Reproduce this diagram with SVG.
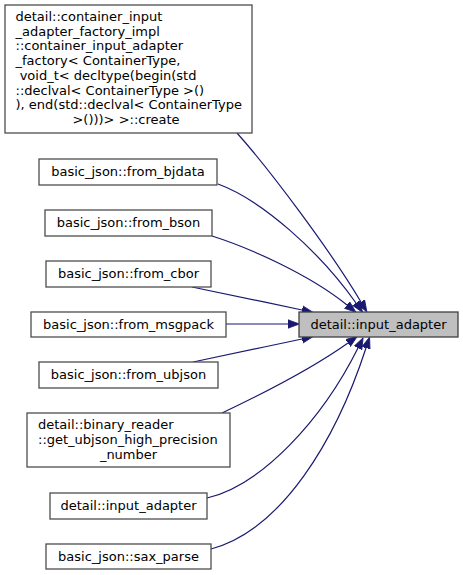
<svg xmlns="http://www.w3.org/2000/svg" width="463" height="575" viewBox="0 0 463 575">
<style>
.n rect{fill:#ffffff;stroke:#4d4d4d;stroke-width:1.3}
.t rect{fill:#bfbfbf;stroke:#404040;stroke-width:1.3}
text{font-family:"DejaVu Sans",sans-serif;font-size:13px;fill:#000000;white-space:pre}
.c{text-anchor:middle}
.e path{fill:none;stroke:#191970;stroke-width:1.2;marker-end:url(#ah)}
</style>
<defs>
<marker id="ah" markerUnits="userSpaceOnUse" markerWidth="12" markerHeight="10" viewBox="0 -5 12 10" refX="0" refY="0" orient="auto">
<path d="M0,-4.2 L11.5,0 L0,4.2 Z" fill="#191970" stroke="#191970" stroke-width="0.8"/>
</marker>
</defs>
<g id="edges" class="e">
<path d="M237,133 C270,170 330,250 361,302"/>
<path d="M218,184 C262,200 320,252 356,303"/>
<path d="M212,236 C250,248 310,275 347,305"/>
<path d="M192,287 C220,293 265,302 302,310"/>
<path d="M226,324 L288,324"/>
<path d="M193,362 C220,356 265,347 302,339"/>
<path d="M222,413 C260,395 310,370 348,343"/>
<path d="M207,498 C262,485 322,420 358,348"/>
<path d="M211,549 C282,530 336,440 366,348"/>
</g>
<g id="node1" class="n">
<rect x="5" y="5" width="247" height="128"/>
<text x="15.5" y="21">detail::container_input</text>
<text x="15.5" y="35.7">_adapter_factory_impl</text>
<text x="15.5" y="50.4">::container_input_adapter</text>
<text x="15.5" y="65.1">_factory&lt; ContainerType,</text>
<text x="15.5" y="79.8"> void_t&lt; decltype(begin(std</text>
<text x="15.5" y="94.5">::declval&lt; ContainerType &gt;()</text>
<text x="15.5" y="109.2">), end(std::declval&lt; ContainerType</text>
<text class="c" x="126" y="124">&gt;()))&gt; &gt;::create</text>
</g>
<g id="node2" class="n">
<rect x="39" y="159" width="178" height="26"/>
<text class="c" x="128" y="176">basic_json::from_bjdata</text>
</g>
<g id="node3" class="n">
<rect x="45" y="210" width="167" height="26"/>
<text class="c" x="128.5" y="227">basic_json::from_bson</text>
</g>
<g id="node4" class="n">
<rect x="46" y="261" width="165" height="26"/>
<text class="c" x="128.5" y="278">basic_json::from_cbor</text>
</g>
<g id="node5" class="n">
<rect x="31" y="312" width="195" height="25"/>
<text class="c" x="128.5" y="328.5">basic_json::from_msgpack</text>
</g>
<g id="node6" class="n">
<rect x="39" y="362" width="179" height="26"/>
<text class="c" x="128.5" y="379">basic_json::from_ubjson</text>
</g>
<g id="node7" class="n">
<rect x="27" y="413" width="203" height="54"/>
<text x="38" y="428.5">detail::binary_reader</text>
<text x="38" y="443.5">::get_ubjson_high_precision</text>
<text class="c" x="128.5" y="458.5">_number</text>
</g>
<g id="node8" class="n">
<rect x="50" y="493" width="157" height="26"/>
<text class="c" x="128.5" y="510">detail::input_adapter</text>
</g>
<g id="node9" class="n">
<rect x="46" y="544" width="165" height="25"/>
<text class="c" x="128.5" y="561">basic_json::sax_parse</text>
</g>
<g id="target" class="t">
<rect x="299" y="312" width="159" height="25"/>
<text class="c" x="378.5" y="328.5">detail::input_adapter</text>
</g>
</svg>
